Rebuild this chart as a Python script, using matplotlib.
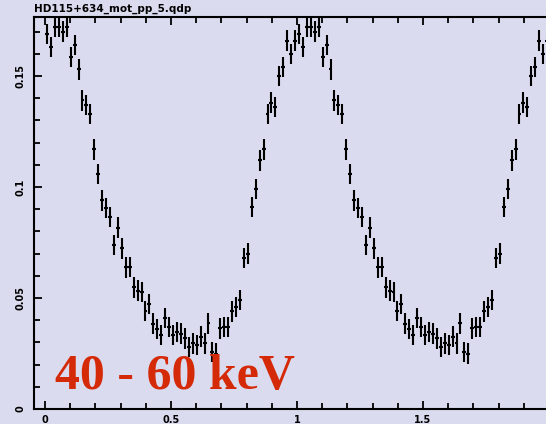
import numpy as np
import matplotlib
matplotlib.use("Agg")
import matplotlib.pyplot as plt
from matplotlib.ticker import MultipleLocator, FixedLocator

"""
Folded light curve, 64 phase bins, shown twice (phase 0-2)
"""
n_bins = 64
rate = [0.169, 0.163, 0.172, 0.172, 0.170, 0.172, 0.1585, 0.164,
        0.153, 0.139, 0.137, 0.133, 0.117, 0.106, 0.094, 0.0905,
        0.0865, 0.0739, 0.0817, 0.0724, 0.0638, 0.064, 0.0548, 0.0533,
        0.0528, 0.0441, 0.0473, 0.0385, 0.036, 0.0333, 0.041, 0.037,
        0.0333, 0.0348, 0.034, 0.0318, 0.028, 0.0296, 0.0288, 0.0326,
        0.0296, 0.0386, 0.0258, 0.025, 0.0363, 0.037, 0.037, 0.044,
        0.046, 0.049, 0.068, 0.070, 0.091, 0.099, 0.112, 0.117,
        0.133, 0.138, 0.136, 0.150, 0.154, 0.166, 0.160, 0.166]
rate_err = 0.0046
x_ticks = [0, 0.5, 1, 1.5]
x_labels = ["0", "0.5", "1", "1.5"]
y_ticks = [0, 0.05, 0.1, 0.15]
y_labels = ["0", "0.05", "0.1", "0.15"]
title = "HD115+634_mot_pp_5.qdp"
band = "40 - 60 keV"

bg = "#dbdbef"

phase = (np.arange(n_bins) + 0.5) / n_bins
phase2 = np.concatenate([phase, phase + 1])
rate2 = np.concatenate([rate, rate])

fig = plt.figure(figsize=(5.46, 4.24), dpi=100, facecolor=bg)
ax = fig.add_axes([34 / 546, 15 / 424, 1 - 34 / 546, 392 / 424])
ax.set_facecolor(bg)

ax.errorbar(phase2, rate2, xerr=0.5 / n_bins, yerr=rate_err, fmt="none",
            ecolor="black", elinewidth=1.5, capsize=0)

ax.set_xlim(-0.044, 1.988)
ax.set_ylim(0, 0.1766)

ax.xaxis.set_major_locator(FixedLocator(x_ticks))
ax.set_xticklabels(x_labels)
ax.xaxis.set_minor_locator(MultipleLocator(0.1))
ax.yaxis.set_major_locator(FixedLocator(y_ticks))
ax.set_yticklabels(y_labels)
ax.yaxis.set_minor_locator(MultipleLocator(0.01))

ax.tick_params(which="both", direction="in", top=True, right=False,
               width=1.3, labelsize=7)
ax.tick_params(which="major", length=6)
ax.tick_params(which="minor", length=4)
ax.tick_params(axis="x", pad=4)
ax.tick_params(axis="y", pad=6)
for lab in ax.get_yticklabels():
    lab.set_rotation(90)
    lab.set_va("center")
    lab.set_fontweight("bold")
for lab in ax.get_xticklabels():
    lab.set_fontweight("bold")

for side in ["left", "top", "bottom"]:
    ax.spines[side].set_linewidth(1.5)
ax.spines["right"].set_visible(False)

fig.text(34 / 546, 1 - 12 / 424, title, fontsize=7.5, fontweight="bold",
         ha="left", va="baseline")

ax.text(55, 424 - 389, band, transform=None, fontsize=36,
        family="Liberation Serif", fontweight="bold", color="#d42a08",
        ha="left", va="baseline")

fig.savefig("out.png", dpi=100, facecolor=bg)
